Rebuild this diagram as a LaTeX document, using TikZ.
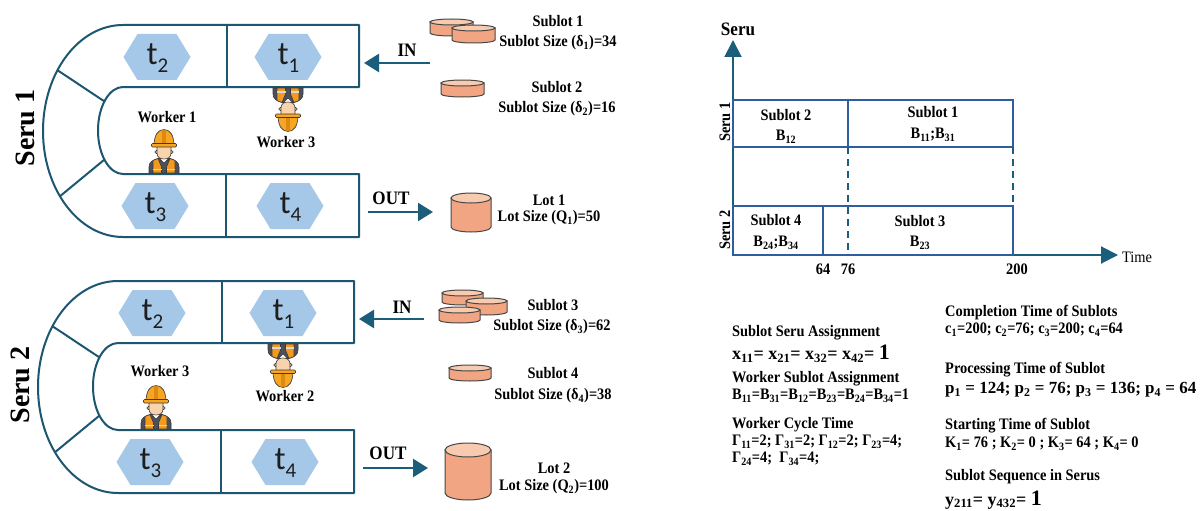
\documentclass[tikz,border=0pt]{standalone}
\usepackage{fontspec}
\setmainfont{Liberation Serif}
\newfontfamily\cnd{Liberation Serif}[FakeStretch=0.9]
\newfontfamily\tfont{Carlito}
\usetikzlibrary{arrows.meta,calc}

\definecolor{seruline}{HTML}{1D5670}
\definecolor{hexfill}{HTML}{A6C8E8}
\definecolor{arrowc}{HTML}{1B5E7B}
\definecolor{canbody}{HTML}{F2A583}
\definecolor{cantop}{HTML}{F8CBB1}
\definecolor{canline}{HTML}{474747}
\definecolor{gantt}{HTML}{2F5E9E}
\definecolor{helmet}{HTML}{F5A623}
\definecolor{helmetd}{HTML}{DE8A12}
\definecolor{skin}{HTML}{F9D2AE}
\definecolor{skind}{HTML}{EDB88C}
\definecolor{jacket}{HTML}{4C5059}
\definecolor{vest}{HTML}{F39A1E}
\definecolor{wline}{HTML}{3A3A3A}
\definecolor{tcol}{HTML}{1E1E1E}

\newcommand\sbs[1]{\textsubscript{#1}}
\newcommand\tsub[1]{t\raisebox{-8pt}{\fontsize{21}{21}\selectfont #1}}

% hexagonal task cell: centre x, centre y, node name, task index
\newcommand\hexcell[4]{%
  \fill[hexfill] (#1-33.5,#2) -- (#1-19.5,#2-23) -- (#1+19.5,#2-23)
     -- (#1+33.5,#2) -- (#1+19.5,#2+23) -- (#1-19.5,#2+23) -- cycle;
  \node[tlabel] (#3) at (#1+0.5,#2+1) {\tsub{#4}};}

% cylinder: centre x, top y, half width, top ellipse radius, body height
\newcommand\can[5]{%
  \filldraw[canshape, fill=canbody] (#1-#3,#2) -- (#1-#3,#2+#5)
     arc[start angle=180, end angle=0, x radius=#3, y radius=#4] -- (#1+#3,#2) -- cycle;
  \filldraw[canshape, fill=cantop] (#1,#2) ellipse[x radius=#3, y radius=#4];}

% U-shaped seru cell with its four task stations (prefix for node names)
\newcommand\serushape[1]{%
  \draw[seru] (359,25) -- (123,25)
     arc[start angle=270, end angle=90, x radius=80, y radius=106]
     -- (359,237) -- (359,174) -- (123,174)
     arc[start angle=90, end angle=270, x radius=25, y radius=43.5]
     -- (359,87) -- cycle;
  \draw[seru] (227,25) -- (227,87);
  \draw[seru] (226,174) -- (226,237);
  \draw[seru] ({123+80*cos(215)},{131+106*sin(215)}) -- ({123+25*cos(222)},{130.5+43.5*sin(222)});
  \draw[seru] ({123+80*cos(142)},{131+106*sin(142)}) -- ({123+25*cos(138)},{130.5+43.5*sin(138)});
  \hexcell{157}{57}{#1t2}{2}
  \hexcell{288}{57}{#1t1}{1}
  \hexcell{155}{206}{#1t3}{3}
  \hexcell{290}{206}{#1t4}{4}}

\tikzset{
  seru/.style={draw=seruline, line width=2pt, line join=round},
  tlabel/.style={font=\tfont\fontsize{33}{33}\selectfont, text=tcol, inner sep=0pt},
  lbl/.style={font=\cnd\bfseries\fontsize{16}{18}\selectfont, inner sep=0pt},
  biglbl/.style={font=\bfseries\fontsize{28}{28}\selectfont, inner sep=0pt, rotate=90},
  iolbl/.style={font=\cnd\bfseries\fontsize{19}{19}\selectfont, inner sep=0pt},
  txt/.style={font=\cnd\bfseries\fontsize{16}{18}\selectfont, inner sep=0pt, anchor=west},
  eqbig/.style={font=\bfseries\fontsize{18}{18}\selectfont, inner sep=0pt, anchor=west},
  eqmid/.style={font=\bfseries\fontsize{17}{18}\selectfont, inner sep=0pt, anchor=west},
  flow/.style={draw=arrowc, line width=2.5pt, -{Triangle[width=18pt,length=15pt]}},
  axis/.style={draw=arrowc, line width=2pt, -{Triangle[width=17pt,length=17pt]}},
  canshape/.style={draw=canline, line width=1pt},
  gbox/.style={draw=gantt, line width=2pt, inner sep=0pt, outer sep=0pt, anchor=north west},
  gdash/.style={draw=arrowc, line width=1.6pt, dash pattern=on 7pt off 5pt},
  worker/.pic={
    \begin{scope}[draw=wline, line width=0.6pt]
      \filldraw[fill=jacket] (-15,0) -- (-15,-6) .. controls (-15,-11) and (-11,-13) .. (-6,-14.5)
         -- (6,-14.5) .. controls (11,-13) and (15,-11) .. (15,-6) -- (15,0) -- cycle;
      \filldraw[fill=vest] (-11,0) -- (-11,-12.5) -- (-6,-14.5) -- (-2.5,-6) -- (-2.5,0) -- cycle;
      \filldraw[fill=vest] (11,0) -- (11,-12.5) -- (6,-14.5) -- (2.5,-6) -- (2.5,0) -- cycle;
      \fill[black!15] (-11,-4.5) rectangle (-2.5,-2.8);
      \fill[black!15] (2.5,-4.5) rectangle (11,-2.8);
      \filldraw[fill=skind] (-4,-13) rectangle (4,-17);
      \filldraw[fill=white] (-4.5,-14.5) -- (0,-10) -- (4.5,-14.5) -- cycle;
      \filldraw[fill=skin] (-7.5,-21) circle[radius=1.8];
      \filldraw[fill=skin] (7.5,-21) circle[radius=1.8];
      \filldraw[fill=skin] (-7,-27) -- (-7,-20) .. controls (-7,-15.5) and (-3.5,-14) .. (0,-14)
         .. controls (3.5,-14) and (7,-15.5) .. (7,-20) -- (7,-27) -- cycle;
      \filldraw[fill=helmet] (-10,-27) .. controls (-10,-38) and (-6,-43.5) .. (0,-43.5)
         .. controls (6,-43.5) and (10,-38) .. (10,-27) -- cycle;
      \fill[helmetd] (-2.2,-43) rectangle (2.2,-29);
      \filldraw[fill=helmet, rounded corners=1pt] (-12.5,-29.5) rectangle (12.5,-26);
    \end{scope}
  }
}

\begin{document}
\begin{tikzpicture}[x=1pt, y=-1pt]
\useasboundingbox (0,0) rectangle (1202,511);
\fill[white] (0,0) rectangle (1202,511);

% ---------------- Seru 1 ----------------
\serushape{a}
\node[biglbl] (seru1) at (25,128) {Seru 1};
\pic at (164,173) {worker};
\pic[rotate=180] at (288,88) {worker};
\node[lbl] (w1) at (167,117) {Worker 1};
\node[lbl] (w3a) at (286,142) {Worker 3};

\coordinate (in1s) at (430,63);
\coordinate (in1e) at (364,63);
\draw[flow] (in1s) -- (in1e);
\node[iolbl] (in1) at (407,50) {IN};
\coordinate (out1s) at (368,212);
\coordinate (out1e) at (433,212);
\draw[flow] (out1s) -- (out1e);
\node[iolbl] (out1) at (391,198) {OUT};

\can{451.5}{22}{21.5}{3}{11}
\can{473.5}{28}{21.5}{3}{12}
\node[lbl] (sl1) at (558,21) {Sublot 1};
\node[lbl] (sl1s) at (558,43) {Sublot Size (δ\sbs{1})=34};
\can{462.5}{83}{21.5}{3}{11}
\node[lbl] (sl2) at (557,87) {Sublot 2};
\node[lbl] (sl2s) at (557,109) {Sublot Size (δ\sbs{2})=16};
\can{471}{198}{20}{5}{29}
\node[lbl] (lot1) at (549,200) {Lot 1};
\node[lbl] (lot1s) at (549,218) {Lot Size (Q\sbs{1})=50};

% ---------------- Seru 2 ----------------
\begin{scope}[shift={(-5,256)}]
  \serushape{b}
\end{scope}
\node[biglbl] (seru2) at (20,385) {Seru 2};
\pic at (156,429) {worker};
\pic[rotate=180] at (283,344) {worker};
\node[lbl] (w3b) at (160,371) {Worker 3};
\node[lbl] (w2) at (285,396) {Worker 2};

\coordinate (in2s) at (424,319);
\coordinate (in2e) at (359,319);
\draw[flow] (in2s) -- (in2e);
\node[iolbl] (in2) at (402,307) {IN};
\coordinate (out2s) at (363,468);
\coordinate (out2e) at (428,468);
\draw[flow] (out2s) -- (out2e);
\node[iolbl] (out2) at (388,453) {OUT};

\can{462.5}{293}{20.5}{3}{9}
\can{486.5}{301}{20.5}{3}{11}
\can{459.5}{310}{20.5}{3}{10}
\node[lbl] (sl3) at (553,305) {Sublot 3};
\node[lbl] (sl3s) at (552,327) {Sublot Size (δ\sbs{3})=62};
\can{470}{368}{21}{3}{10}
\node[lbl] (sl4) at (553,373) {Sublot 4};
\node[lbl] (sl4s) at (553,396) {Sublot Size (δ\sbs{4})=38};
\can{468}{450}{23}{7}{43}
\node[lbl] (lot2) at (554,468) {Lot 2};
\node[lbl] (lot2s) at (554,487) {Lot Size (Q\sbs{2})=100};

% ---------------- Gantt chart ----------------
\coordinate (org) at (733,255);
\coordinate (ytip) at (733,40);
\coordinate (xtip) at (1118,255);
\draw[axis] (org) -- (ytip);
\draw[axis] (org) -- (xtip);
\node[font=\cnd\bfseries\fontsize{19}{19}\selectfont, inner sep=0pt] (yl) at (738,29) {Seru};
\node[font=\cnd\fontsize{16}{16}\selectfont, inner sep=0pt] (xl) at (1137,257) {Time};

\node[gbox, minimum width=115pt, minimum height=47pt] (b2) at (733,100) {};
\node[gbox, minimum width=165pt, minimum height=47pt] (b1) at (848,100) {};
\node[gbox, minimum width=90pt, minimum height=49pt] (b4) at (733,206) {};
\node[gbox, minimum width=190pt, minimum height=49pt] (b3) at (823,206) {};
\draw[gdash] (b2.south east) -- (b2.south east |- b3.south);
\draw[gdash] (b1.south east) -- (b3.north east);

\node[lbl] (gs2) at (786,115) {Sublot 2};
\node[lbl] (gb2) at (786,137) {B\sbs{12}};
\node[lbl] (gs1) at (933,112) {Sublot 1};
\node[lbl] (gb1) at (933,135) {B\sbs{11};B\sbs{31}};
\node[lbl] (gs4) at (776,220) {Sublot 4};
\node[lbl] (gb4) at (776,243) {B\sbs{24};B\sbs{34}};
\node[lbl] (gs3) at (920,221) {Sublot 3};
\node[lbl] (gb3) at (920,243) {B\sbs{23}};
\node[lbl, rotate=90] (gr1) at (725,122) {Seru 1};
\node[lbl, rotate=90] (gr2) at (725,230) {Seru 2};
\node[lbl] (t64) at (823,269) {64};
\node[lbl] (t76) at (848,269) {76};
\node[lbl] (t200) at (1017,269) {200};

% ---------------- Solution values ----------------
\node[txt] (h1) at (732,333) {Sublot Seru Assignment};
\node[eqbig] (e1) at (732,354) {x\sbs{11}= x\sbs{21}= x\sbs{32}= x\sbs{42}= {\fontsize{22}{22}\selectfont 1}};
\node[txt] (h2) at (732,379) {Worker Sublot Assignment};
\node[txt] (e2) at (732,396) {B\sbs{11}=B\sbs{31}=B\sbs{12}=B\sbs{23}=B\sbs{24}=B\sbs{34}=1};
\node[txt] (h3) at (732,425) {Worker Cycle Time};
\node[txt] (e3) at (732,442) {Γ\sbs{11}=2; Γ\sbs{31}=2; Γ\sbs{12}=2; Γ\sbs{23}=4;};
\node[txt] (e3b) at (732,459) {Γ\sbs{24}=4;\ \ Γ\sbs{34}=4;};

\node[txt] (h4) at (945,313) {Completion Time of Sublots};
\node[txt] (e4) at (945,330) {c\sbs{1}=200; c\sbs{2}=76; c\sbs{3}=200; c\sbs{4}=64};
\node[txt] (h5) at (945,370) {Processing Time of Sublot};
\node[eqmid] (e5) at (945,390) {p\sbs{1} = 124; p\sbs{2} = 76; p\sbs{3} = 136; p\sbs{4} = 64};
\node[txt] (h6) at (945,426) {Starting Time of Sublot};
\node[txt] (e6) at (945,444) {K\sbs{1}= 76 ; K\sbs{2}= 0 ; K\sbs{3}= 64 ; K\sbs{4}= 0};
\node[txt] (h7) at (945,477) {Sublot Sequence in Serus};
\node[eqbig] (e7) at (945,500) {y\sbs{211}= y\sbs{432}= {\fontsize{22}{22}\selectfont 1}};
\end{tikzpicture}
\end{document}
